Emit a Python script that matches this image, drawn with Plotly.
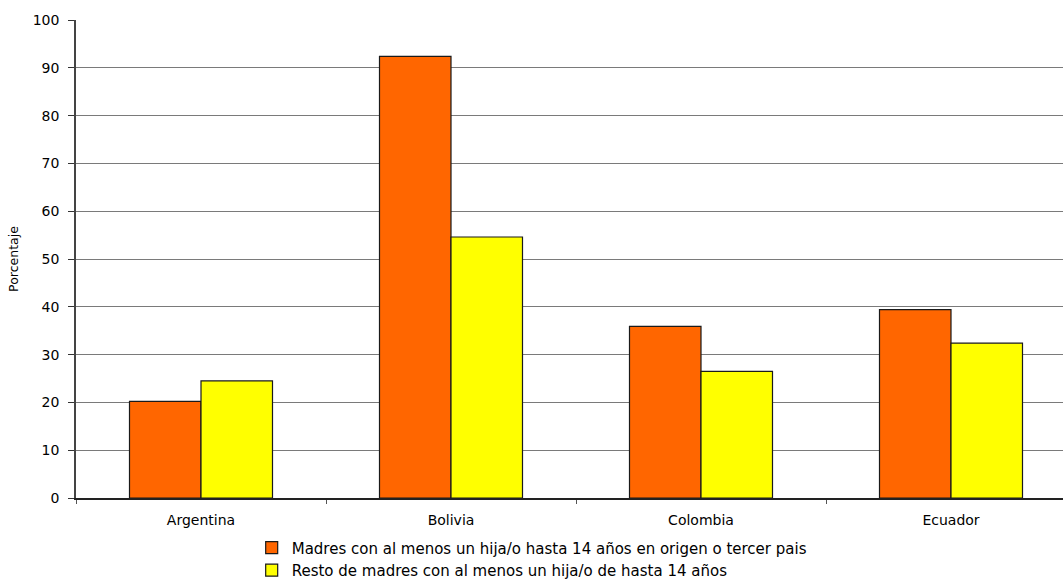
import plotly.graph_objects as go

# Country groups on the category axis
paises = ["Argentina", "Bolivia", "Colombia", "Ecuador"]

# Share of mothers (%) per group
madres_origen = [20.2, 92.4, 35.9, 39.4]
resto_madres = [24.5, 54.6, 26.5, 32.4]

serie_origen = "Madres con al menos un hija/o hasta 14 años en origen o tercer pais"
serie_resto = "Resto de madres con al menos un hija/o de hasta 14 años"

y_ticks = list(range(0, 101, 10))

FONT = "DejaVu Sans, Liberation Sans, Arial, sans-serif"

fig = go.Figure()
fig.add_trace(go.Bar(
    x=paises, y=madres_origen, name=serie_origen,
    marker=dict(color="#FF6600", line=dict(color="#1a1a1a", width=1.2)),
))
fig.add_trace(go.Bar(
    x=paises, y=resto_madres, name=serie_resto,
    marker=dict(color="#FFFF00", line=dict(color="#1a1a1a", width=1.2)),
))

fig.update_layout(
    width=1063, height=584,
    margin=dict(l=76, r=0, t=20, b=86),
    paper_bgcolor="white", plot_bgcolor="white",
    barmode="group", bargap=0.428, bargroupgap=0,
    font=dict(family=FONT, color="black", size=14),
    showlegend=True,
    legend=dict(
        orientation="v", x=0.178, xanchor="left",
        yref="container", y=0.09, yanchor="top",
        font=dict(size=15), itemwidth=30, tracegroupgap=0,
        bgcolor="rgba(0,0,0,0)",
    ),
    xaxis=dict(
        range=[-0.5, 3.448],
        showline=True, linecolor="#222222", linewidth=1.5,
        ticks="outside", ticklen=4, tickcolor="#555555", tickwidth=1,
        tickson="boundaries", showgrid=False,
        tickfont=dict(size=14), ticklabelstandoff=8,
    ),
    yaxis=dict(
        range=[0, 100], tickvals=y_ticks,
        showline=True, linecolor="#444444", linewidth=1.5,
        ticks="outside", ticklen=6, tickcolor="#333333", tickwidth=1,
        showgrid=True, gridcolor="#7a7a7a", gridwidth=1,
        zeroline=False,
        title=dict(text="Porcentaje", font=dict(size=12.5), standoff=11),
        tickfont=dict(size=14), ticklabelstandoff=6,
    ),
)

fig.write_html("out.html")
